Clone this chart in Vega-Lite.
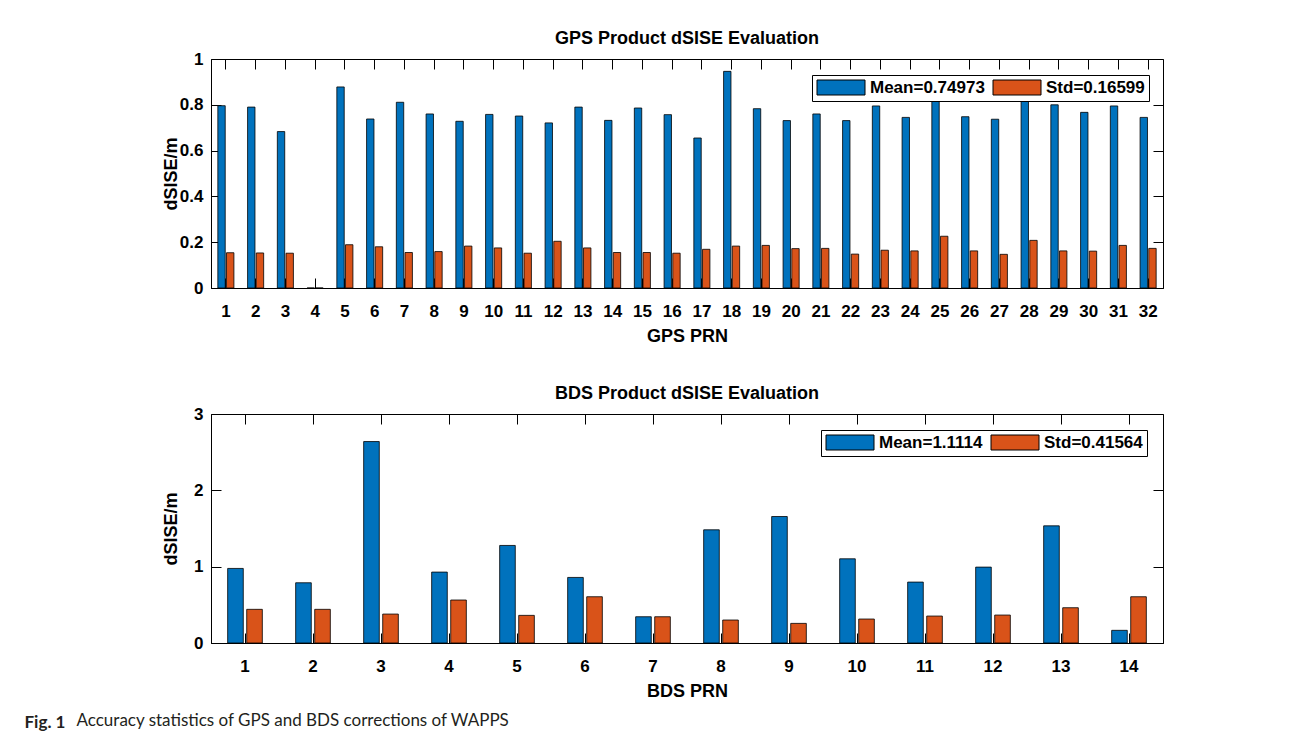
{
  "$schema": "https://vega.github.io/schema/vega-lite/v6.json",
  "padding": {"left": 24, "top": 29, "right": 20, "bottom": 6},
  "config": {
    "font": "Liberation Sans",
    "view": {"stroke": "black", "strokeWidth": 1},
    "axis": {
      "domainColor": "black", "tickColor": "black", "labelColor": "black", "titleColor": "black",
      "labelFont": "Liberation Sans", "labelFontWeight": "bold", "labelFontSize": 17,
      "titleFont": "Liberation Sans", "titleFontSize": 18, "titleFontWeight": "bold",
      "grid": false, "tickSize": -10, "domainWidth": 1, "tickWidth": 1
    },
    "legend": {
      "orient": "none", "direction": "horizontal", "title": null,
      "strokeColor": "black", "fillColor": "white", "padding": 4,
      "symbolType": "M-1,-1H5.4V1H-1Z", "symbolSize": 225,
      "symbolStrokeColor": "black", "symbolStrokeWidth": 1, "symbolOpacity": 1,
      "labelFont": "Liberation Sans", "labelFontSize": 17, "labelFontWeight": "bold", "labelColor": "black",
      "labelOffset": 37, "columnPadding": 6
    },
    "title": {"font": "Liberation Sans", "fontSize": 18, "fontWeight": "bold", "color": "black", "offset": 2},
    "concat": {"spacing": 38}
  },
  "title": {"text": "Accuracy statistics of GPS and BDS corrections of WAPPS", "orient": "bottom", "anchor": "start", "font": "Lato", "fontSize": 17, "fontWeight": "normal", "color": "#231f20", "dx": 52, "dy": -18, "offset": 0},
  "vconcat": [
    {
      "title": {"text": "Fig. 1", "orient": "bottom", "anchor": "start", "font": "Lato", "fontSize": 17, "fontWeight": "bold", "color": "#231f20", "dx": -137, "offset": 14},
      "resolve": {"scale": {"color": "independent", "x": "independent", "y": "independent", "xOffset": "independent"}, "legend": {"color": "independent"}},
      "vconcat": [
        {
          "width": 952, "height": 229,
          "title": {"text": "GPS Product dSISE Evaluation"},
          "data": {"values": [
            {"PRN": 1, "stat": "Mean=0.74973", "value": 0.796}, {"PRN": 1, "stat": "Std=0.16599", "value": 0.154},
            {"PRN": 2, "stat": "Mean=0.74973", "value": 0.790}, {"PRN": 2, "stat": "Std=0.16599", "value": 0.153},
            {"PRN": 3, "stat": "Mean=0.74973", "value": 0.683}, {"PRN": 3, "stat": "Std=0.16599", "value": 0.152},
            {"PRN": 4, "stat": "Mean=0.74973", "value": 0}, {"PRN": 4, "stat": "Std=0.16599", "value": 0},
            {"PRN": 5, "stat": "Mean=0.74973", "value": 0.878}, {"PRN": 5, "stat": "Std=0.16599", "value": 0.189},
            {"PRN": 6, "stat": "Mean=0.74973", "value": 0.738}, {"PRN": 6, "stat": "Std=0.16599", "value": 0.180},
            {"PRN": 7, "stat": "Mean=0.74973", "value": 0.811}, {"PRN": 7, "stat": "Std=0.16599", "value": 0.155},
            {"PRN": 8, "stat": "Mean=0.74973", "value": 0.760}, {"PRN": 8, "stat": "Std=0.16599", "value": 0.159},
            {"PRN": 9, "stat": "Mean=0.74973", "value": 0.728}, {"PRN": 9, "stat": "Std=0.16599", "value": 0.183},
            {"PRN": 10, "stat": "Mean=0.74973", "value": 0.758}, {"PRN": 10, "stat": "Std=0.16599", "value": 0.175},
            {"PRN": 11, "stat": "Mean=0.74973", "value": 0.751}, {"PRN": 11, "stat": "Std=0.16599", "value": 0.152},
            {"PRN": 12, "stat": "Mean=0.74973", "value": 0.721}, {"PRN": 12, "stat": "Std=0.16599", "value": 0.204},
            {"PRN": 13, "stat": "Mean=0.74973", "value": 0.790}, {"PRN": 13, "stat": "Std=0.16599", "value": 0.175},
            {"PRN": 14, "stat": "Mean=0.74973", "value": 0.732}, {"PRN": 14, "stat": "Std=0.16599", "value": 0.155},
            {"PRN": 15, "stat": "Mean=0.74973", "value": 0.786}, {"PRN": 15, "stat": "Std=0.16599", "value": 0.155},
            {"PRN": 16, "stat": "Mean=0.74973", "value": 0.757}, {"PRN": 16, "stat": "Std=0.16599", "value": 0.152},
            {"PRN": 17, "stat": "Mean=0.74973", "value": 0.655}, {"PRN": 17, "stat": "Std=0.16599", "value": 0.169},
            {"PRN": 18, "stat": "Mean=0.74973", "value": 0.946}, {"PRN": 18, "stat": "Std=0.16599", "value": 0.183},
            {"PRN": 19, "stat": "Mean=0.74973", "value": 0.783}, {"PRN": 19, "stat": "Std=0.16599", "value": 0.186},
            {"PRN": 20, "stat": "Mean=0.74973", "value": 0.731}, {"PRN": 20, "stat": "Std=0.16599", "value": 0.172},
            {"PRN": 21, "stat": "Mean=0.74973", "value": 0.760}, {"PRN": 21, "stat": "Std=0.16599", "value": 0.173},
            {"PRN": 22, "stat": "Mean=0.74973", "value": 0.731}, {"PRN": 22, "stat": "Std=0.16599", "value": 0.148},
            {"PRN": 23, "stat": "Mean=0.74973", "value": 0.795}, {"PRN": 23, "stat": "Std=0.16599", "value": 0.165},
            {"PRN": 24, "stat": "Mean=0.74973", "value": 0.745}, {"PRN": 24, "stat": "Std=0.16599", "value": 0.162},
            {"PRN": 25, "stat": "Mean=0.74973", "value": 0.88}, {"PRN": 25, "stat": "Std=0.16599", "value": 0.226},
            {"PRN": 26, "stat": "Mean=0.74973", "value": 0.748}, {"PRN": 26, "stat": "Std=0.16599", "value": 0.162},
            {"PRN": 27, "stat": "Mean=0.74973", "value": 0.737}, {"PRN": 27, "stat": "Std=0.16599", "value": 0.147},
            {"PRN": 28, "stat": "Mean=0.74973", "value": 0.89}, {"PRN": 28, "stat": "Std=0.16599", "value": 0.208},
            {"PRN": 29, "stat": "Mean=0.74973", "value": 0.800}, {"PRN": 29, "stat": "Std=0.16599", "value": 0.162},
            {"PRN": 30, "stat": "Mean=0.74973", "value": 0.767}, {"PRN": 30, "stat": "Std=0.16599", "value": 0.161},
            {"PRN": 31, "stat": "Mean=0.74973", "value": 0.795}, {"PRN": 31, "stat": "Std=0.16599", "value": 0.186},
            {"PRN": 32, "stat": "Mean=0.74973", "value": 0.745}, {"PRN": 32, "stat": "Std=0.16599", "value": 0.173}
          ]},
          "layer": [
            {
              "mark": {"type": "bar", "stroke": "black", "strokeWidth": 0.8},
              "encoding": {
                "x": {"field": "PRN", "type": "ordinal", "scale": {"paddingInner": 0.46, "paddingOuter": 0.23},
                      "axis": {"labelAngle": 0, "title": "GPS PRN", "labelPadding": 25, "titlePadding": 8}},
                "xOffset": {"field": "stat", "type": "nominal", "scale": {"domain": ["Mean=0.74973", "Std=0.16599"], "paddingInner": 0.15, "paddingOuter": 0}},
                "y": {"field": "value", "type": "quantitative", "scale": {"domain": [0, 1], "nice": false},
                      "axis": {"values": [0, 0.2, 0.4, 0.6, 0.8, 1], "format": "~g", "title": "dSISE/m", "labelPadding": 18,
                               "titleX": -40, "titleY": 114.5, "titleAngle": -90, "titleAlign": "center", "titleBaseline": "middle"}},
                "color": {"field": "stat", "type": "nominal", "scale": {"domain": ["Mean=0.74973", "Std=0.16599"], "range": ["#0072BD", "#D95319"]},
                          "legend": {"legendX": 601, "legendY": 16}}
              }
            },
            {
              "mark": {"type": "point", "opacity": 0},
              "encoding": {
                "x": {"field": "PRN", "type": "ordinal", "axis": {"orient": "top", "labels": false, "title": null, "domain": false}},
                "y": {"field": "value", "type": "quantitative", "axis": {"orient": "right", "labels": false, "title": null, "domain": false, "values": [0, 0.2, 0.4, 0.6, 0.8, 1]}}
              }
            }
          ],
          "resolve": {"axis": {"x": "independent", "y": "independent"}}
        },
        {
          "width": 952, "height": 229,
          "title": {"text": "BDS Product dSISE Evaluation"},
          "data": {"values": [
            {"PRN": 1, "stat": "Mean=1.1114", "value": 0.977}, {"PRN": 1, "stat": "Std=0.41564", "value": 0.441},
            {"PRN": 2, "stat": "Mean=1.1114", "value": 0.789}, {"PRN": 2, "stat": "Std=0.41564", "value": 0.441},
            {"PRN": 3, "stat": "Mean=1.1114", "value": 2.639}, {"PRN": 3, "stat": "Std=0.41564", "value": 0.379},
            {"PRN": 4, "stat": "Mean=1.1114", "value": 0.929}, {"PRN": 4, "stat": "Std=0.41564", "value": 0.563},
            {"PRN": 5, "stat": "Mean=1.1114", "value": 1.278}, {"PRN": 5, "stat": "Std=0.41564", "value": 0.362},
            {"PRN": 6, "stat": "Mean=1.1114", "value": 0.859}, {"PRN": 6, "stat": "Std=0.41564", "value": 0.606},
            {"PRN": 7, "stat": "Mean=1.1114", "value": 0.344}, {"PRN": 7, "stat": "Std=0.41564", "value": 0.344},
            {"PRN": 8, "stat": "Mean=1.1114", "value": 1.483}, {"PRN": 8, "stat": "Std=0.41564", "value": 0.301},
            {"PRN": 9, "stat": "Mean=1.1114", "value": 1.657}, {"PRN": 9, "stat": "Std=0.41564", "value": 0.257},
            {"PRN": 10, "stat": "Mean=1.1114", "value": 1.103}, {"PRN": 10, "stat": "Std=0.41564", "value": 0.314},
            {"PRN": 11, "stat": "Mean=1.1114", "value": 0.798}, {"PRN": 11, "stat": "Std=0.41564", "value": 0.353},
            {"PRN": 12, "stat": "Mean=1.1114", "value": 0.994}, {"PRN": 12, "stat": "Std=0.41564", "value": 0.366},
            {"PRN": 13, "stat": "Mean=1.1114", "value": 1.535}, {"PRN": 13, "stat": "Std=0.41564", "value": 0.462},
            {"PRN": 14, "stat": "Mean=1.1114", "value": 0.166}, {"PRN": 14, "stat": "Std=0.41564", "value": 0.606}
          ]},
          "layer": [
            {
              "mark": {"type": "bar", "stroke": "black", "strokeWidth": 0.8},
              "encoding": {
                "x": {"field": "PRN", "type": "ordinal", "scale": {"paddingInner": 0.49, "paddingOuter": 0.245},
                      "axis": {"labelAngle": 0, "title": "BDS PRN", "labelPadding": 25, "titlePadding": 8}},
                "xOffset": {"field": "stat", "type": "nominal", "scale": {"domain": ["Mean=1.1114", "Std=0.41564"], "paddingInner": 0.18, "paddingOuter": 0}},
                "y": {"field": "value", "type": "quantitative", "scale": {"domain": [0, 3], "nice": false},
                      "axis": {"values": [0, 1, 2, 3], "format": "~g", "title": "dSISE/m", "labelPadding": 18,
                               "titleX": -40, "titleY": 114.5, "titleAngle": -90, "titleAlign": "center", "titleBaseline": "middle"}},
                "color": {"field": "stat", "type": "nominal", "scale": {"domain": ["Mean=1.1114", "Std=0.41564"], "range": ["#0072BD", "#D95319"]},
                          "legend": {"legendX": 610, "legendY": 16}}
              }
            },
            {
              "mark": {"type": "point", "opacity": 0},
              "encoding": {
                "x": {"field": "PRN", "type": "ordinal", "axis": {"orient": "top", "labels": false, "title": null, "domain": false}},
                "y": {"field": "value", "type": "quantitative", "axis": {"orient": "right", "labels": false, "title": null, "domain": false, "values": [0, 1, 2, 3]}}
              }
            }
          ],
          "resolve": {"axis": {"x": "independent", "y": "independent"}}
        }
      ]
    }
  ]
}
